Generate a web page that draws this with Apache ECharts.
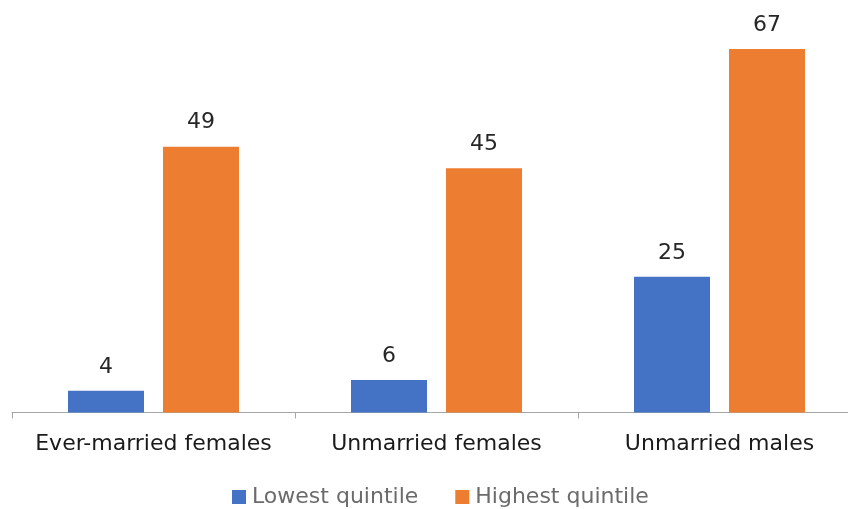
<!DOCTYPE html>
<html><head><meta charset="utf-8">
<script src="https://cdn.jsdelivr.net/npm/echarts@6/dist/echarts.min.js"></script>
<style>html,body{margin:0;padding:0;background:#fff;overflow:hidden}#c{width:848px;height:509px}</style>
</head><body><div id="c"></div>
<script>
const categories = ["Ever-married females", "Unmarried females", "Unmarried males"];
const lowestQuintile = [4, 6, 25];
const highestQuintile = [49, 45, 67];
const seriesNames = ["Lowest quintile", "Highest quintile"];

const font = "DejaVu Sans";
const chart = echarts.init(document.getElementById('c'), null, {renderer: 'canvas'});
const labelStyle = {show: true, position: 'top', distance: 13, fontSize: 22, color: '#262626', fontFamily: font};
chart.setOption({
  animation: false,
  grid: {left: 12, width: 849, top: 32.7, height: 379.8, containLabel: false, outerBoundsMode: 'none'},
  legend: {
    top: 481, left: 227, itemWidth: 14, itemHeight: 14, itemGap: 37,
    icon: 'rect',
    textStyle: {fontSize: 22, color: '#6b6b6b', fontFamily: font, padding: [0, 0, 0, 1]},
    data: seriesNames
  },
  xAxis: {
    type: 'category', data: categories,
    axisLine: {lineStyle: {color: '#a6a6a6', width: 1}},
    axisTick: {show: true, interval: 0, length: 6, lineStyle: {color: '#a6a6a6'}},
    axisLabel: {interval: 0, fontSize: 22, color: '#1a1a1a', fontFamily: font, margin: 21}
  },
  yAxis: {type: 'value', min: 0, max: 70, show: false, splitLine: {show: false}},
  series: [
    {name: seriesNames[0], type: 'bar', data: lowestQuintile, barWidth: 76, barGap: '25%',
     itemStyle: {color: '#4472c4'}, label: labelStyle},
    {name: seriesNames[1], type: 'bar', data: highestQuintile, barWidth: 76,
     itemStyle: {color: '#ed7d31'}, label: labelStyle}
  ]
});
</script></body></html>
